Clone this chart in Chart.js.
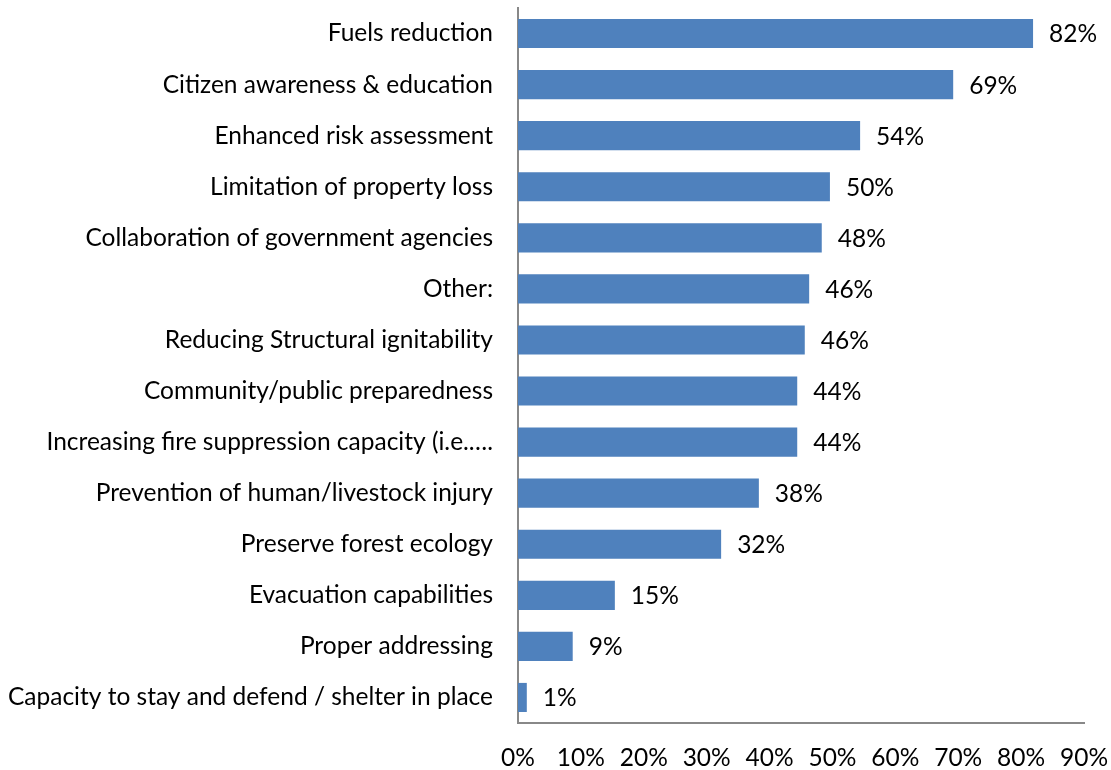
<!DOCTYPE html>
<html lang="en">
<head>
    <meta charset="UTF-8">
    <title>Wildfire priorities</title>
    <script src="https://cdn.jsdelivr.net/npm/chart.js"></script>
    <style>
        html, body { margin: 0; padding: 0; background: #fff; }
        #wrap { width: 1111px; height: 770px; }
    </style>
</head>
<body>
    <div id="wrap"><canvas id="priorityChart"></canvas></div>

    <script>
        // categories, top to bottom
        const categories = [
            'Fuels reduction',
            'Citizen awareness & education',
            'Enhanced risk assessment',
            'Limitation of property loss',
            'Collaboration of government agencies',
            'Other:',
            'Reducing Structural ignitability',
            'Community/public preparedness',
            'Increasing fire suppression capacity (i.e.\u2026.',
            'Prevention of human/livestock injury',
            'Preserve forest ecology',
            'Evacuation capabilities',
            'Proper addressing',
            'Capacity to stay and defend / shelter in place'
        ];
        // percent of respondents (bar lengths)
        const percents = [81.9, 69.2, 54.4, 49.6, 48.3, 46.3, 45.6, 44.4, 44.4, 38.3, 32.3, 15.4, 8.7, 1.4];
        // printed labels next to the bars
        const valueLabels = ['82%', '69%', '54%', '50%', '48%', '46%', '46%', '44%', '44%', '38%', '32%', '15%', '9%', '1%'];
        const xTicks = [0, 10, 20, 30, 40, 50, 60, 70, 80, 90];

        const FONT = 'Lato';
        const FSIZE = 24.5;

        // draw the value text just past each bar end
        const barLabels = {
            id: 'barLabels',
            afterDatasetsDraw(chart) {
                const ctx = chart.ctx;
                const meta = chart.getDatasetMeta(0);
                ctx.save();
                ctx.font = FSIZE + 'px "' + FONT + '"';
                ctx.fillStyle = '#000';
                ctx.textAlign = 'left';
                ctx.textBaseline = 'middle';
                meta.data.forEach((bar, i) => {
                    ctx.fillText(valueLabels[i], bar.x + 16, bar.y + 1);
                });
                ctx.restore();
            }
        };

        new Chart(document.getElementById('priorityChart'), {
            type: 'bar',
            data: {
                labels: categories,
                datasets: [{
                    data: percents,
                    backgroundColor: '#4f81bd',
                    borderWidth: 0,
                    barPercentage: 0.57,
                    categoryPercentage: 1.0
                }]
            },
            plugins: [barLabels],
            options: {
                indexAxis: 'y',
                responsive: true,
                maintainAspectRatio: false,
                animation: false,
                layout: { padding: { top: 8, right: 27, bottom: 0, left: 0 } },
                plugins: {
                    legend: { display: false },
                    tooltip: { enabled: false }
                },
                scales: {
                    x: {
                        min: 0,
                        max: 90,
                        afterBuildTicks: axis => { axis.ticks = xTicks.map(v => ({ value: v })); },
                        afterFit: axis => {
                            axis.height = 47;
                            axis.paddingLeft = 0;
                            axis.paddingRight = 0;
                        },
                        grid: { display: false, drawTicks: false },
                        border: { display: true, color: '#888888', width: 2 },
                        ticks: {
                            padding: 20,
                            color: '#000',
                            maxRotation: 0,
                            font: { family: FONT, size: FSIZE },
                            callback: v => v + '%'
                        }
                    },
                    y: {
                        afterFit: axis => {
                            axis.width = 518;
                            axis.paddingTop = 0;
                            axis.paddingBottom = 0;
                        },
                        grid: { display: false, drawTicks: false },
                        border: { display: true, color: '#888888', width: 2 },
                        ticks: {
                            padding: 25,
                            color: '#000',
                            autoSkip: false,
                            font: { family: FONT, size: FSIZE }
                        }
                    }
                }
            }
        });
    </script>
</body>
</html>
